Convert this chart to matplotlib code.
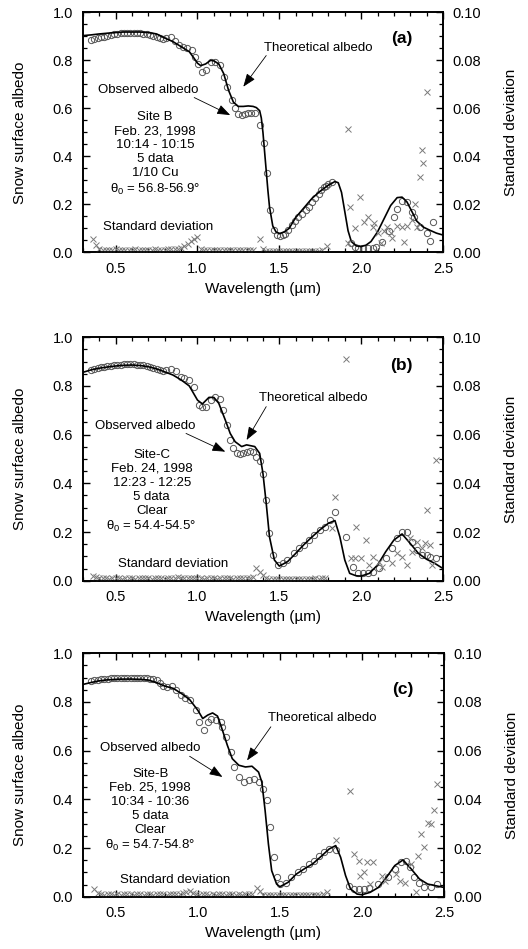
import matplotlib
matplotlib.use('Agg')
import matplotlib.pyplot as plt
from matplotlib.ticker import MultipleLocator

plt.rcParams['font.family'] = ['Liberation Sans', 'DejaVu Sans']
plt.rcParams['mathtext.fontset'] = 'custom'
plt.rcParams['mathtext.rm'] = 'Liberation Sans'
plt.rcParams['mathtext.it'] = 'Liberation Sans'

# ---------------- panel (a) : Site B, Feb. 23 ----------------
lam_a_th = [0.30, 0.35, 0.40, 0.45, 0.50, 0.55, 0.60, 0.65, 0.70, 0.75, 0.80, 0.85, 0.90, 0.95, 0.98,
            1.00, 1.02, 1.05, 1.08, 1.10, 1.13, 1.16, 1.19, 1.22, 1.25, 1.28, 1.31, 1.34, 1.36, 1.38,
            1.39, 1.40, 1.41, 1.42, 1.43, 1.44, 1.46, 1.48, 1.50, 1.53, 1.56, 1.60, 1.65, 1.70, 1.75,
            1.80, 1.84, 1.86, 1.88, 1.90, 1.92, 1.94, 1.97, 2.00, 2.03, 2.06, 2.10, 2.14, 2.18, 2.22,
            2.25, 2.28, 2.31, 2.34, 2.38, 2.42, 2.46, 2.50]
alb_a_th = [0.903, 0.906, 0.910, 0.913, 0.916, 0.918, 0.918, 0.918, 0.916, 0.910, 0.893, 0.878, 0.857, 0.836, 0.808,
            0.788, 0.778, 0.785, 0.800, 0.798, 0.785, 0.745, 0.675, 0.625, 0.608, 0.608, 0.610, 0.608, 0.603, 0.590,
            0.560, 0.500, 0.420, 0.340, 0.260, 0.190, 0.110, 0.085, 0.078, 0.085, 0.100, 0.145, 0.185, 0.225, 0.255,
            0.280, 0.295, 0.290, 0.250, 0.170, 0.090, 0.045, 0.027, 0.024, 0.030, 0.045, 0.085, 0.140, 0.195, 0.228,
            0.230, 0.210, 0.170, 0.130, 0.105, 0.092, 0.080, 0.072]

lam_a_ob = [0.35, 0.37, 0.39, 0.41, 0.43, 0.45, 0.47, 0.49, 0.51, 0.53, 0.55, 0.57, 0.59, 0.61, 0.63, 0.65,
            0.67, 0.69, 0.71, 0.73, 0.75, 0.77, 0.79, 0.81, 0.84, 0.86, 0.89, 0.91, 0.934, 0.965, 0.985,
            1.005, 1.03, 1.05, 1.08, 1.11, 1.14, 1.16, 1.18, 1.21, 1.23, 1.25, 1.27, 1.29, 1.31, 1.33, 1.35,
            1.385, 1.405, 1.425, 1.445, 1.465, 1.485, 1.505, 1.52, 1.535, 1.555, 1.576, 1.595, 1.617, 1.64,
            1.66, 1.68, 1.70, 1.72, 1.74, 1.755, 1.77, 1.785, 1.80, 1.82,
            1.94, 1.96, 1.98, 2.01, 2.04, 2.07, 2.09, 2.13, 2.17, 2.20, 2.22, 2.25, 2.28, 2.31, 2.32, 2.36,
            2.40, 2.42, 2.44]
alb_a_ob = [0.885, 0.888, 0.892, 0.896, 0.899, 0.902, 0.905, 0.908, 0.910, 0.912, 0.913, 0.913, 0.914, 0.914, 0.913, 0.913,
            0.911, 0.909, 0.906, 0.902, 0.897, 0.892, 0.888, 0.892, 0.896, 0.880, 0.862, 0.856, 0.850, 0.842, 0.814,
            0.786, 0.751, 0.758, 0.793, 0.793, 0.780, 0.730, 0.689, 0.633, 0.600, 0.578, 0.571, 0.578, 0.580, 0.582, 0.582,
            0.530, 0.455, 0.330, 0.176, 0.093, 0.072, 0.070, 0.072, 0.078, 0.095, 0.113, 0.130, 0.147, 0.160,
            0.175, 0.190, 0.210, 0.228, 0.245, 0.260, 0.272, 0.278, 0.285, 0.293,
            0.039, 0.022, 0.018, 0.018, 0.018, 0.020, 0.022, 0.043, 0.090, 0.147, 0.180, 0.215, 0.210, 0.170, 0.146, 0.105,
            0.080, 0.047, 0.126]

lam_a_sd = [0.36, 0.38, 0.40, 0.42, 0.44, 0.46, 0.48, 0.50, 0.52, 0.54, 0.56, 0.58, 0.60, 0.62, 0.64, 0.66,
            0.68, 0.70, 0.72, 0.74, 0.76, 0.78, 0.80, 0.82, 0.84, 0.86, 0.88, 0.90, 0.92, 0.94, 0.96, 0.98,
            1.00, 1.02, 1.04, 1.06, 1.08, 1.10, 1.12, 1.14, 1.16, 1.18, 1.20, 1.22, 1.24, 1.26, 1.28, 1.30,
            1.32, 1.34, 1.38, 1.40, 1.42, 1.44, 1.46, 1.48, 1.50, 1.52, 1.54, 1.56, 1.58, 1.60, 1.62, 1.64,
            1.66, 1.68, 1.70, 1.72, 1.74, 1.76, 1.79,
            1.92, 1.917, 1.93, 1.96, 1.99, 2.02, 2.04, 2.07, 2.08, 2.10, 2.12, 2.14, 2.16, 2.18, 2.19, 2.22,
            2.25, 2.26, 2.28, 2.31, 2.33, 2.34, 2.36, 2.37, 2.38, 2.40]
sd_a = [0.0055, 0.0032, 0.0012, 0.0009, 0.0011, 0.0008, 0.0010, 0.0012, 0.0009, 0.0008, 0.0011, 0.0010, 0.0009, 0.0012, 0.0010, 0.0008,
        0.0011, 0.0009, 0.0010, 0.0012, 0.0009, 0.0011, 0.0010, 0.0013, 0.0012, 0.0014, 0.0013, 0.0018, 0.0028, 0.0035, 0.0048, 0.0055,
        0.0062, 0.0012, 0.0009, 0.0008, 0.0010, 0.0011, 0.0009, 0.0008, 0.0010, 0.0009, 0.0011, 0.0008, 0.0010, 0.0009, 0.0008, 0.0010,
        0.0009, 0.0011, 0.0054, 0.0012, 0.0006, 0.0005, 0.0004, 0.0006, 0.0005, 0.0004, 0.0005, 0.0006, 0.0004, 0.0005, 0.0006, 0.0005,
        0.0004, 0.0005, 0.0006, 0.0005, 0.0007, 0.0009, 0.0026,
        0.0040, 0.0513, 0.0190, 0.0100, 0.0230, 0.0128, 0.0149, 0.0107, 0.0124, 0.0080, 0.0037, 0.0090, 0.0107, 0.0080, 0.0060, 0.0110,
        0.0107, 0.0044, 0.0110, 0.0135, 0.0200, 0.0107, 0.0315, 0.0426, 0.0374, 0.0670]

# ---------------- panel (b) : Site-C, Feb. 24 ----------------
lam_b_th = [0.30, 0.35, 0.40, 0.45, 0.50, 0.55, 0.60, 0.65, 0.70, 0.75, 0.80, 0.85, 0.90, 0.95, 1.00,
            1.03, 1.07, 1.10, 1.13, 1.17, 1.20, 1.23, 1.27, 1.30, 1.35, 1.38, 1.40, 1.42, 1.44, 1.47,
            1.50, 1.55, 1.60, 1.65, 1.70, 1.75, 1.80, 1.84, 1.87, 1.90, 1.93, 1.97, 2.00, 2.05, 2.10,
            2.15, 2.20, 2.25, 2.30, 2.35, 2.40, 2.45, 2.50]
alb_b_th = [0.856, 0.866, 0.873, 0.878, 0.882, 0.885, 0.886, 0.884, 0.879, 0.870, 0.858, 0.845, 0.825, 0.800, 0.742,
            0.726, 0.753, 0.753, 0.729, 0.660, 0.605, 0.571, 0.551, 0.558, 0.551, 0.523, 0.441, 0.318, 0.180, 0.085,
            0.060, 0.078, 0.112, 0.148, 0.180, 0.210, 0.236, 0.247, 0.180, 0.085, 0.030, 0.020, 0.019, 0.030, 0.064,
            0.119, 0.167, 0.192, 0.153, 0.112, 0.088, 0.071, 0.050]

lam_b_ob = [0.35, 0.37, 0.39, 0.41, 0.43, 0.45, 0.47, 0.49, 0.51, 0.53, 0.55, 0.57, 0.59, 0.61, 0.63, 0.65,
            0.67, 0.69, 0.71, 0.73, 0.75, 0.77, 0.79, 0.81, 0.84, 0.87, 0.90, 0.92, 0.95, 0.98, 1.01, 1.03,
            1.05, 1.08, 1.11, 1.14, 1.157, 1.18, 1.20, 1.22, 1.24, 1.26, 1.28, 1.30, 1.32, 1.34, 1.36, 1.38,
            1.40, 1.42, 1.44, 1.46, 1.49, 1.52, 1.55, 1.59, 1.62, 1.65, 1.68, 1.71, 1.75, 1.78, 1.81, 1.84,
            1.91, 1.95, 1.98, 2.01, 2.04, 2.07, 2.11, 2.15, 2.19, 2.22, 2.25, 2.28, 2.31, 2.34, 2.37, 2.40,
            2.42, 2.46]
alb_b_ob = [0.864, 0.868, 0.872, 0.876, 0.879, 0.882, 0.884, 0.886, 0.887, 0.888, 0.889, 0.889, 0.890, 0.889, 0.888, 0.887,
            0.885, 0.882, 0.879, 0.874, 0.870, 0.866, 0.862, 0.866, 0.868, 0.860, 0.838, 0.832, 0.825, 0.797, 0.720, 0.712,
            0.715, 0.743, 0.756, 0.748, 0.700, 0.640, 0.578, 0.545, 0.525, 0.520, 0.525, 0.530, 0.532, 0.528, 0.510, 0.490,
            0.440, 0.330, 0.195, 0.105, 0.064, 0.073, 0.085, 0.113, 0.134, 0.147, 0.167, 0.188, 0.208, 0.222, 0.250, 0.282,
            0.181, 0.058, 0.030, 0.030, 0.030, 0.035, 0.052, 0.093, 0.134, 0.175, 0.200, 0.200, 0.160, 0.126, 0.105, 0.105,
            0.099, 0.093]

lam_b_sd = [0.36, 0.38, 0.40, 0.42, 0.44, 0.46, 0.48, 0.50, 0.52, 0.54, 0.56, 0.58, 0.60, 0.62, 0.64, 0.66,
            0.68, 0.70, 0.72, 0.74, 0.76, 0.78, 0.80, 0.82, 0.84, 0.86, 0.88, 0.90, 0.92, 0.94, 0.96, 0.98,
            1.00, 1.02, 1.04, 1.06, 1.08, 1.10, 1.12, 1.14, 1.16, 1.18, 1.20, 1.22, 1.24, 1.26, 1.28, 1.30,
            1.32, 1.34, 1.36, 1.38, 1.40, 1.42, 1.44, 1.46, 1.48, 1.50, 1.52, 1.54, 1.56, 1.58, 1.60, 1.62,
            1.64, 1.66, 1.68, 1.70, 1.72, 1.74, 1.76, 1.78,
            1.82, 1.84, 1.91, 1.94, 1.96, 1.97, 2.00, 2.03, 2.05, 2.07, 2.11, 2.13, 2.19, 2.22, 2.25, 2.28,
            2.30, 2.31, 2.34, 2.37, 2.39, 2.40, 2.42, 2.43, 2.46]
sd_b = [0.0018, 0.0014, 0.0012, 0.0010, 0.0011, 0.0009, 0.0012, 0.0010, 0.0011, 0.0009, 0.0010, 0.0012, 0.0011, 0.0009, 0.0010, 0.0012,
        0.0011, 0.0010, 0.0009, 0.0011, 0.0012, 0.0010, 0.0009, 0.0011, 0.0013, 0.0012, 0.0014, 0.0013, 0.0012, 0.0011, 0.0013, 0.0012,
        0.0010, 0.0011, 0.0009, 0.0010, 0.0012, 0.0011, 0.0009, 0.0010, 0.0011, 0.0010, 0.0012, 0.0009, 0.0011, 0.0010, 0.0012, 0.0011,
        0.0013, 0.0015, 0.0052, 0.0035, 0.0023, 0.0010, 0.0008, 0.0007, 0.0009, 0.0008, 0.0007, 0.0008, 0.0009, 0.0007, 0.0008, 0.0009,
        0.0008, 0.0007, 0.0009, 0.0008, 0.0010, 0.0009, 0.0011, 0.0013,
        0.0218, 0.0345, 0.0911, 0.0092, 0.0093, 0.0222, 0.0093, 0.0167, 0.0064, 0.0099, 0.0078, 0.0058, 0.0073, 0.0113, 0.0099, 0.0064,
        0.0175, 0.0119, 0.0160, 0.0134, 0.0155, 0.0290, 0.0147, 0.0064, 0.0496]

# ---------------- panel (c) : Site-B, Feb. 25 ----------------
lam_c_th = [0.30, 0.35, 0.40, 0.45, 0.50, 0.55, 0.60, 0.65, 0.70, 0.75, 0.80, 0.85, 0.90, 0.95, 1.00,
            1.03, 1.06, 1.09, 1.12, 1.15, 1.18, 1.21, 1.25, 1.29, 1.33, 1.37, 1.39, 1.41, 1.43, 1.45,
            1.48, 1.50, 1.55, 1.60, 1.65, 1.70, 1.75, 1.80, 1.84, 1.87, 1.90, 1.93, 1.97, 2.00, 2.05,
            2.10, 2.15, 2.20, 2.25, 2.30, 2.35, 2.40, 2.45, 2.50]
alb_c_th = [0.872, 0.880, 0.887, 0.891, 0.893, 0.894, 0.894, 0.893, 0.890, 0.879, 0.865, 0.856, 0.835, 0.810, 0.766,
            0.732, 0.746, 0.755, 0.742, 0.684, 0.622, 0.567, 0.540, 0.533, 0.536, 0.512, 0.471, 0.354, 0.217, 0.107,
            0.052, 0.041, 0.059, 0.093, 0.115, 0.135, 0.165, 0.196, 0.210, 0.162, 0.087, 0.032, 0.011, 0.008, 0.018,
            0.038, 0.080, 0.128, 0.151, 0.114, 0.073, 0.052, 0.045, 0.038]

lam_c_ob = [0.35, 0.37, 0.39, 0.41, 0.43, 0.45, 0.47, 0.49, 0.51, 0.53, 0.55, 0.57, 0.59, 0.61, 0.63, 0.65,
            0.67, 0.69, 0.71, 0.73, 0.75, 0.77, 0.79, 0.81, 0.84, 0.87, 0.90, 0.92, 0.95, 0.99, 1.01, 1.04,
            1.06, 1.08, 1.11, 1.14, 1.15, 1.17, 1.20, 1.22, 1.25, 1.28, 1.31, 1.34, 1.37, 1.40, 1.42, 1.44,
            1.465, 1.48, 1.50, 1.54, 1.57, 1.61, 1.64, 1.68, 1.71, 1.74, 1.77, 1.80, 1.84,
            1.92, 1.95, 1.98, 2.01, 2.04, 2.10, 2.16, 2.20, 2.24, 2.27, 2.29, 2.32, 2.35, 2.38, 2.42, 2.46]
alb_c_ob = [0.888, 0.890, 0.892, 0.894, 0.895, 0.896, 0.897, 0.898, 0.899, 0.899, 0.900, 0.900, 0.900, 0.900, 0.899, 0.899,
            0.898, 0.897, 0.896, 0.894, 0.890, 0.880, 0.866, 0.862, 0.866, 0.849, 0.830, 0.815, 0.808, 0.766, 0.718, 0.684,
            0.718, 0.732, 0.725, 0.718, 0.698, 0.656, 0.595, 0.533, 0.490, 0.471, 0.478, 0.485, 0.471, 0.444, 0.396, 0.286,
            0.162, 0.080, 0.052, 0.058, 0.080, 0.100, 0.114, 0.135, 0.148, 0.169, 0.183, 0.196, 0.190,
            0.045, 0.033, 0.030, 0.033, 0.037, 0.052, 0.080, 0.114, 0.141, 0.148, 0.121, 0.080, 0.058, 0.038, 0.038, 0.052]

lam_c_sd = [0.37, 0.39, 0.41, 0.43, 0.45, 0.47, 0.49, 0.51, 0.53, 0.55, 0.57, 0.59, 0.61, 0.63, 0.65, 0.67,
            0.69, 0.71, 0.73, 0.75, 0.77, 0.79, 0.81, 0.83, 0.85, 0.87, 0.89, 0.91, 0.93, 0.95, 0.97, 0.99,
            1.01, 1.03, 1.05, 1.07, 1.09, 1.11, 1.13, 1.15, 1.17, 1.19, 1.21, 1.23, 1.25, 1.27, 1.29, 1.31,
            1.33, 1.36, 1.38, 1.40, 1.42, 1.44, 1.46, 1.48, 1.50, 1.52, 1.54, 1.56, 1.58, 1.60, 1.62, 1.64,
            1.66, 1.68, 1.70, 1.72, 1.74, 1.76, 1.79,
            1.84, 1.93, 1.95, 1.98, 1.99, 2.01, 2.03, 2.05, 2.07, 2.12, 2.14, 2.21, 2.23, 2.26, 2.30, 2.33,
            2.34, 2.36, 2.38, 2.40, 2.42, 2.44, 2.46]
sd_c = [0.0032, 0.0015, 0.0010, 0.0009, 0.0011, 0.0010, 0.0008, 0.0011, 0.0009, 0.0010, 0.0012, 0.0010, 0.0009, 0.0011, 0.0010, 0.0008,
        0.0010, 0.0011, 0.0009, 0.0010, 0.0012, 0.0010, 0.0009, 0.0011, 0.0010, 0.0012, 0.0011, 0.0015, 0.0020, 0.0025, 0.0015, 0.0010,
        0.0009, 0.0011, 0.0010, 0.0008, 0.0010, 0.0009, 0.0011, 0.0010, 0.0008, 0.0010, 0.0011, 0.0009, 0.0010, 0.0008, 0.0011, 0.0010,
        0.0012, 0.0035, 0.0022, 0.0008, 0.0007, 0.0006, 0.0007, 0.0008, 0.0006, 0.0007, 0.0006, 0.0008, 0.0007, 0.0006, 0.0007, 0.0008,
        0.0006, 0.0007, 0.0008, 0.0007, 0.0009, 0.0010, 0.0018,
        0.0231, 0.0434, 0.0176, 0.0148, 0.0087, 0.0100, 0.0141, 0.0052, 0.0141, 0.0087, 0.0066, 0.0094, 0.0063, 0.0058, 0.0135, 0.0018,
        0.0169, 0.0258, 0.0203, 0.0302, 0.0300, 0.0357, 0.0464]

panels = [
    dict(tag='(a)', th=(lam_a_th, alb_a_th), ob=(lam_a_ob, alb_a_ob), sd=(lam_a_sd, sd_a),
         info='Site B\nFeb. 23, 1998\n10:14 - 10:15\n5 data\n1/10 Cu\n$\\theta_0$ = 56.8-56.9°',
         tag_xy=(2.25, 0.89), info_xy=(0.74, 0.588),
         th_txt=(1.74, 0.85), th_arrow=((1.42, 0.82), (1.28, 0.69)),
         ob_txt=(0.70, 0.676), ob_arrow=((0.98, 0.645), (1.20, 0.572)),
         sd_txt=(0.76, 0.107)),
    dict(tag='(b)', th=(lam_b_th, alb_b_th), ob=(lam_b_ob, alb_b_ob), sd=(lam_b_sd, sd_b),
         info='Site-C\nFeb. 24, 1998\n12:23 - 12:25\n5 data\nClear\n$\\theta_0$ = 54.4-54.5°',
         tag_xy=(2.245, 0.886), info_xy=(0.72, 0.542),
         th_txt=(1.71, 0.749), th_arrow=((1.42, 0.715), (1.30, 0.578)),
         ob_txt=(0.68, 0.636), ob_arrow=((0.93, 0.605), (1.17, 0.53)),
         sd_txt=(0.85, 0.068)),
    dict(tag='(c)', th=(lam_c_th, alb_c_th), ob=(lam_c_ob, alb_c_ob), sd=(lam_c_sd, sd_c),
         info='Site-B\nFeb. 25, 1998\n10:34 - 10:36\n5 data\nClear\n$\\theta_0$ = 54.7-54.8°',
         tag_xy=(2.25, 0.85), info_xy=(0.71, 0.529),
         th_txt=(1.76, 0.736), th_arrow=((1.445, 0.698), (1.30, 0.56)),
         ob_txt=(0.71, 0.609), ob_arrow=((0.95, 0.577), (1.15, 0.492)),
         sd_txt=(0.86, 0.069)),
]

rects = [[0.157, 0.7341, 0.682, 0.2529],
         [0.157, 0.3881, 0.682, 0.2565],
         [0.157, 0.0551, 0.684, 0.2565]]

fig = plt.figure(figsize=(5.28, 9.49), dpi=100)

for p, r in zip(panels, rects):
    ax = fig.add_axes(r)
    ax2 = ax.twinx()

    ax.plot(p['th'][0], p['th'][1], color='black', lw=1.2, zorder=3)
    ax.plot(p['ob'][0], p['ob'][1], 'o', mfc='none', mec='#555555', ms=4.5, mew=0.7, zorder=2)
    ax2.plot(p['sd'][0], p['sd'][1], 'x', color='#7a7a7a', ms=4.5, mew=0.7)

    ax.set_xlim(0.3, 2.5)
    ax.set_ylim(0, 1.0)
    ax2.set_ylim(0, 0.10)

    ax.xaxis.set_major_locator(MultipleLocator(0.5))
    ax.xaxis.set_minor_locator(MultipleLocator(0.1))
    ax.yaxis.set_major_locator(MultipleLocator(0.2))
    ax.yaxis.set_minor_locator(MultipleLocator(0.05))
    ax2.yaxis.set_major_locator(MultipleLocator(0.02))
    ax2.yaxis.set_minor_locator(MultipleLocator(0.005))
    ax.set_yticks([0, 0.2, 0.4, 0.6, 0.8, 1.0])
    ax.set_yticklabels(['0.0', '0.2', '0.4', '0.6', '0.8', '1.0'])
    ax.set_xticks([0.5, 1.0, 1.5, 2.0, 2.5])
    ax.set_xticklabels(['0.5', '1.0', '1.5', '2.0', '2.5'])
    ax2.set_yticks([0, 0.02, 0.04, 0.06, 0.08, 0.10])
    ax2.set_yticklabels(['0.00', '0.02', '0.04', '0.06', '0.08', '0.10'])

    ax.tick_params(axis='x', which='both', direction='in', top=True, labelsize=10.5, pad=7)
    ax.tick_params(axis='y', which='both', direction='in', right=False, labelsize=10.5, pad=7)
    ax2.tick_params(axis='y', which='both', direction='in', labelsize=10.5, pad=7)
    for a in (ax, ax2):
        a.tick_params(which='major', length=5, width=1)
        a.tick_params(which='minor', length=3, width=0.9)
        for s in a.spines.values():
            s.set_linewidth(1.2)

    ax.set_xlabel('Wavelength (µm)', fontsize=11)
    ax.set_ylabel('Snow surface albedo', fontsize=11)
    ax2.set_ylabel('Standard deviation', fontsize=11)
    ax.yaxis.set_label_coords(-0.155, 0.5)
    ax2.yaxis.set_label_coords(1.17, 0.5)

    ax.text(p['tag_xy'][0], p['tag_xy'][1], p['tag'], fontsize=12.5, fontweight='bold', ha='center', va='center')
    ax.text(p['info_xy'][0], p['info_xy'][1], p['info'], fontsize=9.5, ha='center', va='top', linespacing=1.22)
    ax.text(p['th_txt'][0], p['th_txt'][1], 'Theoretical albedo', fontsize=9.5, ha='center', va='center')
    ax.text(p['ob_txt'][0], p['ob_txt'][1], 'Observed albedo', fontsize=9.5, ha='center', va='center')
    ax.text(p['sd_txt'][0], p['sd_txt'][1], 'Standard deviation', fontsize=9.5, ha='center', va='center')
    for tail, tip in (p['th_arrow'], p['ob_arrow']):
        ax.annotate('', xy=tip, xytext=tail,
                    arrowprops=dict(arrowstyle='-|>,head_length=0.8,head_width=0.3', lw=0.6, color='black',
                                    shrinkA=0, shrinkB=0))

fig.savefig('out.png', dpi=100)
